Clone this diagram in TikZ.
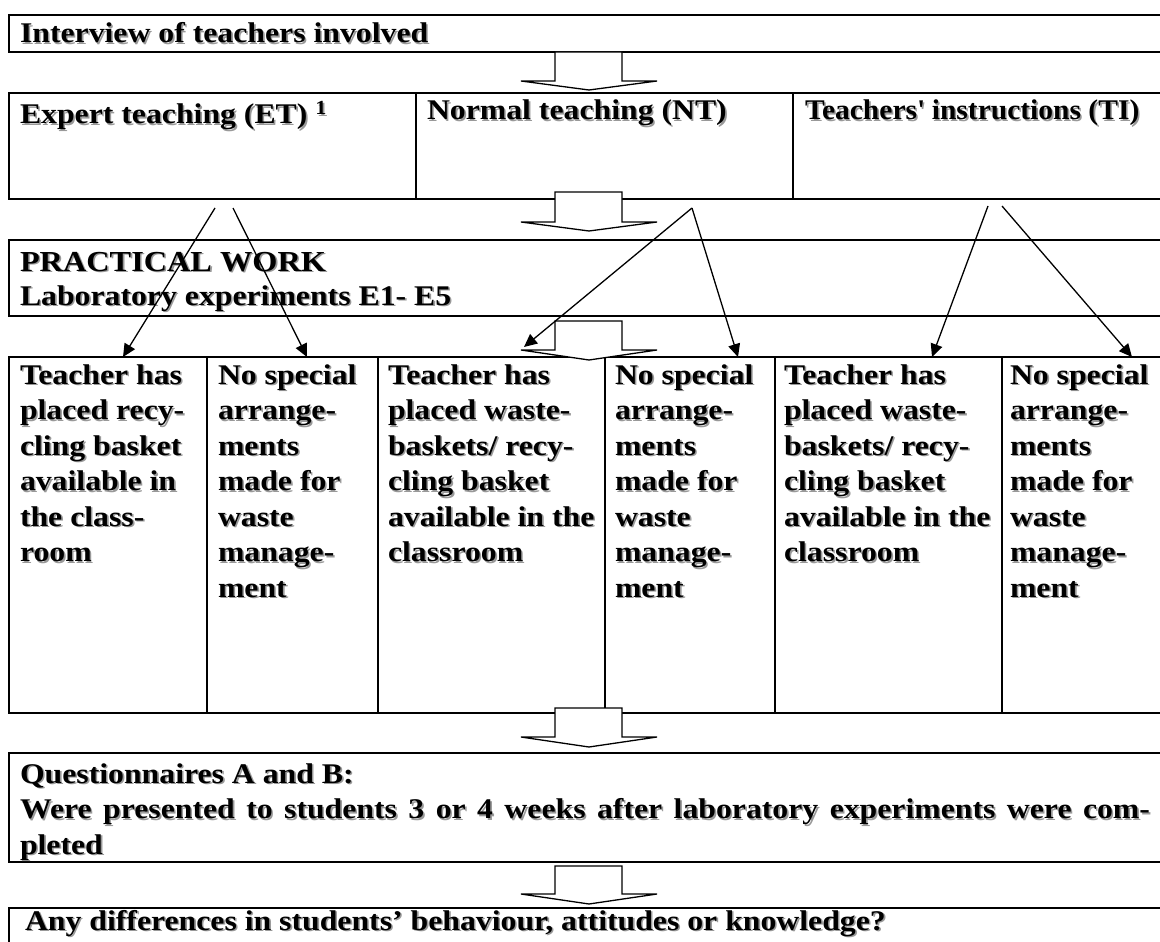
\documentclass[tikz,border=0pt]{standalone}
\usepackage{graphicx}
\usepackage{fontspec}
\setmainfont{Liberation Serif}[FakeStretch=1.114]
\usetikzlibrary{arrows.meta}

\definecolor{shade}{gray}{0.6}

\tikzset{
  frame/.style={draw=black, line width=1.7pt, inner sep=0pt, outer sep=0pt, anchor=north west},
  lbl/.style={inner sep=0pt, outer sep=0pt, anchor=base west, align=left,
              font=\bfseries\fontsize{28.5}{35.5}\selectfont},
  biglbl/.style={font=\bfseries\fontsize{29}{36}\selectfont},
  link/.style={line width=1.3pt, -{Triangle[length=13pt,width=12pt]}},
  blockarrow/.style={draw=black, line width=1.3pt, fill=white, line join=miter},
}

% text with a soft grey drop shadow: [options]{name}{position}{text}
\newcommand\shtext[4][]{%
  \node[lbl,#1,text=shade,xshift=1.6pt,yshift=-1.6pt] (#2s) at (#3) {#4};
  \node[lbl,#1] (#2) at (#3) {#4};}

% hollow block arrow between two stages: top of shaft, shoulder, tip
\newcommand\blockarrow[3]{%
  \draw[blockarrow] (555,#1) -- (555,#2) -- (521,#2) -- (589,#3) -- (657,#2)
    -- (622,#2) -- (622,#1) -- cycle;}

\begin{document}
\begin{tikzpicture}[x=1pt,y=-1pt]
\useasboundingbox (0,0) rectangle (1160,942);
\clip (0,0) rectangle (1160,942);

% stage frames
\node[frame, minimum width=1200pt, minimum height=37pt] (interview) at (9,15) {};
\node[frame, minimum width=407pt, minimum height=106pt] (et) at (9,93) {};
\node[frame, minimum width=377pt, minimum height=106pt] (nt) at (416,93) {};
\node[frame, minimum width=420pt, minimum height=106pt] (ti) at (793,93) {};
\node[frame, minimum width=1200pt, minimum height=76pt] (practical) at (9,240) {};
\node[frame, minimum width=198pt, minimum height=356pt] (c1) at (9,357) {};
\node[frame, minimum width=171pt, minimum height=356pt] (c2) at (207,357) {};
\node[frame, minimum width=227pt, minimum height=356pt] (c3) at (378,357) {};
\node[frame, minimum width=170pt, minimum height=356pt] (c4) at (605,357) {};
\node[frame, minimum width=227pt, minimum height=356pt] (c5) at (775,357) {};
\node[frame, minimum width=200pt, minimum height=356pt] (c6) at (1002,357) {};
\node[frame, minimum width=1200pt, minimum height=109pt] (quest) at (9,753) {};
\node[frame, minimum width=1200pt, minimum height=100pt] (diff) at (9,908) {};

% block arrows between stages
\blockarrow{52}{81}{90}
\blockarrow{192}{222}{231}
\blockarrow{321}{350}{360}
\blockarrow{708}{737}{747}
\blockarrow{866}{894}{904}

% texts
\shtext{interviewl}{20,43}{Interview of teachers involved}
\shtext{etl}{20,124}{Expert teaching (ET) \textsuperscript{1}}
\shtext{ntl}{427,120}{Normal teaching (NT)}
\shtext{til}{805,120}{\scalebox{0.93}[1]{Teachers\textquotesingle{} instructions (TI)}}
\shtext[biglbl]{pwl}{20,271}{PRACTICAL WORK}
\shtext{labl}{20,305}{Laboratory experiments E1- E5}

\shtext[anchor=north west]{c1l}{20,359.15}{\strut Teacher has\\placed recy-\\cling basket\\available in\\the class-\\room}
\shtext[anchor=north west]{c2l}{218,359.15}{\strut No special\\arrange-\\ments\\made for\\waste\\manage-\\ment}
\shtext[anchor=north west]{c3l}{388,359.15}{\strut Teacher has\\placed waste-\\baskets/ recy-\\cling basket\\available in the\\classroom}
\shtext[anchor=north west]{c4l}{615,359.15}{\strut No special\\arrange-\\ments\\made for\\waste\\manage-\\ment}
\shtext[anchor=north west]{c5l}{784,359.15}{\strut Teacher has\\placed waste-\\baskets/ recy-\\cling basket\\available in the\\classroom}
\shtext[anchor=north west]{c6l}{1010,359.15}{\strut No special\\arrange-\\ments\\made for\\waste\\manage-\\ment}

\shtext[anchor=north west]{questl}{20,758.15}{\strut Questionnaires A and B:\\\makebox[1130pt][s]{Were presented to students 3 or 4 weeks after laboratory experiments were com-}\\pleted}
\shtext{diffl}{25,930}{Any differences in students' behaviour, attitudes or knowledge?}

% branching arrows from each teaching mode to its two classroom settings
\coordinate (et-a) at (215,208);
\coordinate (et-b) at (233,208);
\coordinate (nt-o) at (692,208);
\coordinate (ti-a) at (988,206);
\coordinate (ti-b) at (1002,206);
\coordinate (c1-in) at (123,357);
\coordinate (c2-in) at (307,357);
\coordinate (c3-in) at (524,347);
\coordinate (c4-in) at (738,357);
\coordinate (c5-in) at (932,357);
\coordinate (c6-in) at (1132,357);

\draw[link] (et-a) -- (c1-in);
\draw[link] (et-b) -- (c2-in);
\draw[link] (nt-o) -- (c3-in);
\draw[link] (nt-o) -- (c4-in);
\draw[link] (ti-a) -- (c5-in);
\draw[link] (ti-b) -- (c6-in);
\end{tikzpicture}
\end{document}
